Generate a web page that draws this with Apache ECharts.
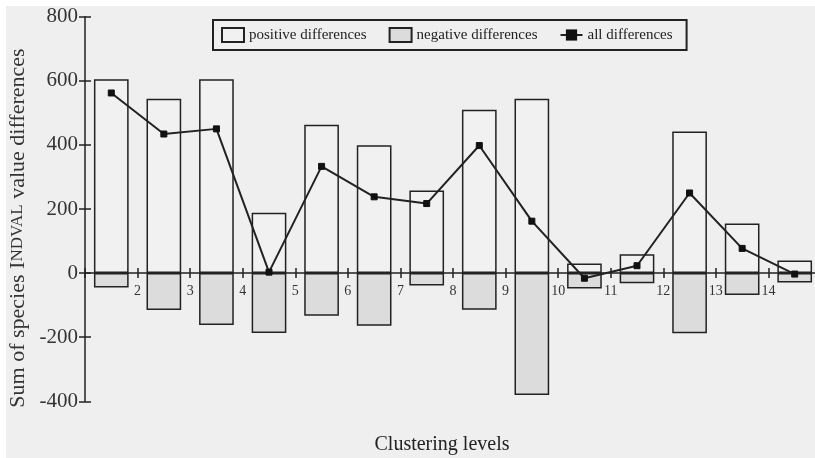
<!DOCTYPE html>
<html>
<head>
<meta charset="utf-8">
<script src="https://cdn.jsdelivr.net/npm/echarts@6/dist/echarts.min.js"></script>
<style>html,body{margin:0;padding:0;background:#fff}#c{width:815px;height:458px}</style>
</head>
<body>
<div id="c"></div>
<script>
var intervals = ['1-2','2-3','3-4','4-5','5-6','6-7','7-8','8-9','9-10','10-11','11-12','12-13','13-14','14-15'];
var positiveDiff = [605, 544, 605, 188, 463, 399, 258, 510, 544, 30, 59, 442, 155, 39];
var negativeDiff = [-45, -115, -162, -187, -133, -164, -39, -114, -380, -48, -32, -188, -68, -29];
var allDiff = [562, 434, 450, 3, 333, 238, 217, 398, 162, -16, 23, 250, 77, -3];
var levelMin = 1, levelMax = 15;
var yMin = -400, yMax = 800, yStep = 200;

var serif = '"Liberation Serif", "DejaVu Serif", serif';
var chart = echarts.init(document.getElementById('c'));
chart.setOption({
  backgroundColor: '#ffffff',
  animation: false,
  graphic: [
    { type: 'rect', z: -10, silent: true, shape: { x: 6, y: 6, width: 815, height: 458 }, style: { fill: '#efefef' } },
    { type: 'text', x: 442, y: 445, style: { text: 'Clustering levels', font: '20px ' + serif, fill: '#222', align: 'center', verticalAlign: 'middle' } },
    { type: 'text', x: 18, y: 228, rotation: Math.PI / 2,
      style: { text: 'Sum of species I{sc|NDVAL} value differences', font: '22px ' + serif, fill: '#333',
        align: 'center', verticalAlign: 'middle',
        rich: { sc: { font: '17px ' + serif, fill: '#333' } } } }
  ],
  legend: {
    left: 213, top: 20,
    padding: [7, 14, 7, 8],
    borderColor: '#222', borderWidth: 2,
    itemGap: 22, itemWidth: 22, itemHeight: 14,
    textStyle: { fontFamily: serif, fontSize: 15, color: '#222' },
    data: [
      { name: 'positive differences', icon: 'rect' },
      { name: 'negative differences', icon: 'rect' },
      { name: 'all differences' }
    ]
  },
  grid: { left: 85, right: -6, top: 16.7, bottom: 56.7, containLabel: false, outerBoundsMode: 'none' },
  xAxis: [
    { type: 'category', data: intervals, position: 'bottom', boundaryGap: true, show: false },
    { type: 'value', min: levelMin, max: levelMax, interval: 1, position: 'bottom',
      axisLine: { onZero: false, lineStyle: { color: '#222', width: 1.5 } },
      axisTick: { show: true, length: 5, lineStyle: { color: '#222', width: 1.5 } },
      splitLine: { show: false },
      axisLabel: { margin: 11, fontFamily: serif, fontSize: 14, color: '#333', showMaxLabel: true, hideOverlap: false,
        formatter: function (v) { return v === levelMin ? '' : String(v); } } },
    { type: 'value', min: levelMin, max: levelMax, interval: 1, position: 'top',
      axisLine: { onZero: false, show: false },
      axisTick: { show: true, length: 5, lineStyle: { color: '#222', width: 1.5 } },
      splitLine: { show: false }, axisLabel: { show: false } }
  ],
  yAxis: [
    { type: 'value', min: yMin, max: yMax, interval: yStep, position: 'left',
      axisLine: { show: true, lineStyle: { color: '#222', width: 1.5 } },
      axisTick: { show: true, length: 6, lineStyle: { color: '#222', width: 1.5 } },
      splitLine: { show: false },
      axisLabel: { margin: 7, fontFamily: serif, fontSize: 21, color: '#333' } },
    { type: 'value', min: yMin, max: yMax, interval: yStep, position: 'left',
      axisLine: { show: false },
      axisTick: { show: true, inside: true, length: 6, lineStyle: { color: '#222', width: 1.5 } },
      splitLine: { show: false }, axisLabel: { show: false } }
  ],
  series: [
    { name: 'positive differences', type: 'bar', xAxisIndex: 0, yAxisIndex: 0, data: positiveDiff,
      barWidth: '66%', barGap: '-100%', z: 2,
      itemStyle: { color: '#f1f1f1', borderColor: '#222', borderWidth: 1.5 } },
    { name: 'negative differences', type: 'bar', xAxisIndex: 0, yAxisIndex: 0, data: negativeDiff,
      barWidth: '66%', barGap: '-100%', z: 2,
      itemStyle: { color: '#dcdcdc', borderColor: '#222', borderWidth: 1.5 } },
    { name: 'all differences', type: 'line', xAxisIndex: 0, yAxisIndex: 0, data: allDiff, z: 5,
      symbol: 'rect', symbolSize: 6, showSymbol: true,
      lineStyle: { color: '#222', width: 2 },
      itemStyle: { color: '#111', borderColor: '#111' } }
  ]
});
var yZero = chart.convertToPixel({ yAxisIndex: 0 }, 0);
var yBottom = chart.convertToPixel({ yAxisIndex: 0 }, yMin);
var yTopPx = chart.convertToPixel({ yAxisIndex: 0 }, yMax);
chart.setOption({
  xAxis: [{}, { offset: -(yBottom - yZero) }, { offset: -(yZero - yTopPx) }]
});
</script>
</body>
</html>
